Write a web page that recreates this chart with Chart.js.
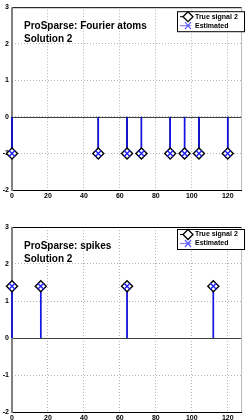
<!DOCTYPE html>
<html><head><meta charset="utf-8">
<script src="https://cdn.jsdelivr.net/npm/chart.js@4/dist/chart.umd.min.js"></script>
<style>
html,body{margin:0;padding:0;background:#fff;}
canvas{position:absolute;left:0;}
#c1{top:0;} #c2{top:210px;}
</style></head>
<body>
<canvas id="c1" width="249" height="210"></canvas>
<canvas id="c2" width="249" height="210"></canvas>
<script>
// ---- data ----
const xTickLabels = [0, 20, 40, 60, 80, 100, 120];
const yTickLabels = [-2, -1, 0, 1, 2, 3];

const fourierIdx  = [0, 48, 64, 72, 88, 96, 104, 120];
const fourierTrue = [-1, -1, -1, -1, -1, -1, -1, -1];
const fourierEst  = [-1, -1, -1, -1, -1, -1, -1, -1];

const spikeIdx  = [0, 16, 64, 112];
const spikeTrue = [1.4, 1.4, 1.4, 1.4];
const spikeEst  = [1.4, 1.4, 1.4, 1.4];

const titles1 = ["ProSparse: Fourier atoms", "Solution 2"];
const titles2 = ["ProSparse: spikes", "Solution 2"];
const legendLabels = ["True signal 2", "Estimated"];

// ---- helpers ----
function stemPoints(idx, vals) {
  const pts = [];
  idx.forEach((x, i) => { pts.push({x: x, y: 0}); pts.push({x: x, y: vals[i]}); pts.push({x: x, y: null}); });
  return pts;
}
function markerPoints(idx, vals) { return idx.map((x, i) => ({x: x, y: vals[i]})); }

const FONT = "'Liberation Sans', Arial, sans-serif";

const framePlugin = {
  id: 'frame',
  beforeDatasetsDraw(chart) {
    const {ctx, chartArea: a, scales: {y}} = chart;
    ctx.save();
    const y0 = y.getPixelForValue(0);
    ctx.strokeStyle = '#404040'; ctx.lineWidth = 1;
    ctx.beginPath(); ctx.moveTo(a.left, Math.round(y0) + 0.5); ctx.lineTo(a.right, Math.round(y0) + 0.5); ctx.stroke();
    ctx.strokeStyle = '#000';
    ctx.beginPath(); ctx.moveTo(a.left, a.top + 0.5); ctx.lineTo(a.right, a.top + 0.5); ctx.stroke();
    ctx.beginPath(); ctx.moveTo(a.left, a.bottom + 0.5); ctx.lineTo(a.right, a.bottom + 0.5); ctx.stroke();
    ctx.strokeStyle = '#bbbbbb';
    ctx.beginPath(); ctx.moveTo(a.right - 0.5, a.top); ctx.lineTo(a.right - 0.5, a.bottom); ctx.stroke();
    ctx.strokeStyle = '#808080'; ctx.lineWidth = 2;
    ctx.beginPath(); ctx.moveTo(a.left, a.top); ctx.lineTo(a.left, a.bottom + 1); ctx.stroke();
    ctx.restore();
  },
  afterDraw(chart, args, opts) {
    const {ctx, chartArea: a} = chart;
    ctx.save();
    // title text
    ctx.fillStyle = '#000';
    ctx.font = "bold 10px " + FONT;
    ctx.textBaseline = 'alphabetic';
    ctx.fillText(opts.titles[0], a.left + 12, a.top + 21.5);
    ctx.fillText(opts.titles[1], a.left + 12, a.top + 34.5);
    // legend
    const bx = 177, by = a.top + opts.legTop, bw = 67, bh = 20;
    ctx.fillStyle = '#fff'; ctx.fillRect(bx, by, bw, bh);
    ctx.strokeStyle = '#000'; ctx.lineWidth = 1;
    ctx.strokeRect(bx + 0.5, by + 0.5, bw, bh);
    const r1 = by + 5.5, r2 = by + 14.5;
    ctx.beginPath(); ctx.moveTo(bx + 3, r1); ctx.lineTo(bx + 14, r1); ctx.stroke();
    ctx.beginPath(); ctx.moveTo(bx + 11, r1 - 5); ctx.lineTo(bx + 16, r1); ctx.lineTo(bx + 11, r1 + 5); ctx.lineTo(bx + 6, r1); ctx.closePath();
    ctx.fillStyle = '#fff'; ctx.fill(); ctx.lineWidth = 1.3; ctx.stroke();
    ctx.strokeStyle = '#8080ff'; ctx.lineWidth = 1.2;
    ctx.beginPath(); ctx.moveTo(bx + 3, r2); ctx.lineTo(bx + 14, r2); ctx.stroke();
    ctx.strokeStyle = '#5a5aff';
    ctx.beginPath(); ctx.moveTo(bx + 8, r2 - 3.5); ctx.lineTo(bx + 14, r2 + 3.5); ctx.moveTo(bx + 14, r2 - 3.5); ctx.lineTo(bx + 8, r2 + 3.5); ctx.stroke();
    ctx.fillStyle = '#000';
    ctx.font = "bold 7px " + FONT;
    ctx.textBaseline = 'middle';
    ctx.fillText(opts.labels[0], bx + 18, r1);
    ctx.fillText(opts.labels[1], bx + 18, r2);
    ctx.restore();
  }
};

function makeChart(id, idx, trueVals, estVals, titles, padTop, xAxisH, legTop) {
  return new Chart(document.getElementById(id), {
    type: 'scatter',
    data: {
      datasets: [
        {data: stemPoints(idx, trueVals), showLine: true, borderColor: '#000', borderWidth: 1, pointRadius: 0, spanGaps: false, clip: false, order: 4},
        {data: stemPoints(idx, estVals), showLine: true, borderColor: '#1414f0', borderWidth: 1.6, pointRadius: 0, spanGaps: false, clip: false, order: 3},
        {data: markerPoints(idx, trueVals), showLine: false, pointStyle: 'rectRot', pointRadius: 5.5, pointBorderWidth: 1.4, pointBorderColor: '#000', pointBackgroundColor: '#fff', clip: false, order: 2},
        {data: markerPoints(idx, estVals), showLine: false, pointStyle: 'crossRot', pointRadius: 4.2, pointBorderWidth: 1.4, pointBorderColor: '#2020ff', pointBackgroundColor: '#2020ff', clip: false, order: 1}
      ]
    },
    options: {
      responsive: false, animation: false, events: [],
      layout: {padding: {top: padTop, right: 3, left: 0, bottom: 0}},
      plugins: {legend: {display: false}, tooltip: {enabled: false},
        frame: {titles: titles, labels: legendLabels, legTop: legTop}},
      scales: {
        x: {
          type: 'linear', min: 0, max: 128,
          afterBuildTicks: s => { s.ticks = xTickLabels.map(v => ({value: v})); },
          afterFit: s => { s.height = xAxisH; },
          grid: {color: '#b4b4b4', lineWidth: 1, drawTicks: false},
          border: {display: false, dash: [1, 2]},
          ticks: {color: '#000', font: {family: FONT, size: 7, weight: 'bold'}, padding: 2, maxRotation: 0, autoSkip: false}
        },
        y: {
          type: 'linear', min: -2, max: 3,
          afterBuildTicks: s => { s.ticks = yTickLabels.map(v => ({value: v})); },
          afterFit: s => { s.width = 12; },
          grid: {color: '#b4b4b4', lineWidth: 1, drawTicks: false},
          border: {display: false, dash: [1, 2]},
          ticks: {color: '#000', font: {family: FONT, size: 7, weight: 'bold'}, padding: 3, autoSkip: false}
        }
      }
    },
    plugins: [framePlugin]
  });
}

makeChart('c1', fourierIdx, fourierTrue, fourierEst, titles1, 5, 20, 4);
makeChart('c2', spikeIdx, spikeTrue, spikeEst, titles2, 17, 8, 2);
</script>
</body></html>
